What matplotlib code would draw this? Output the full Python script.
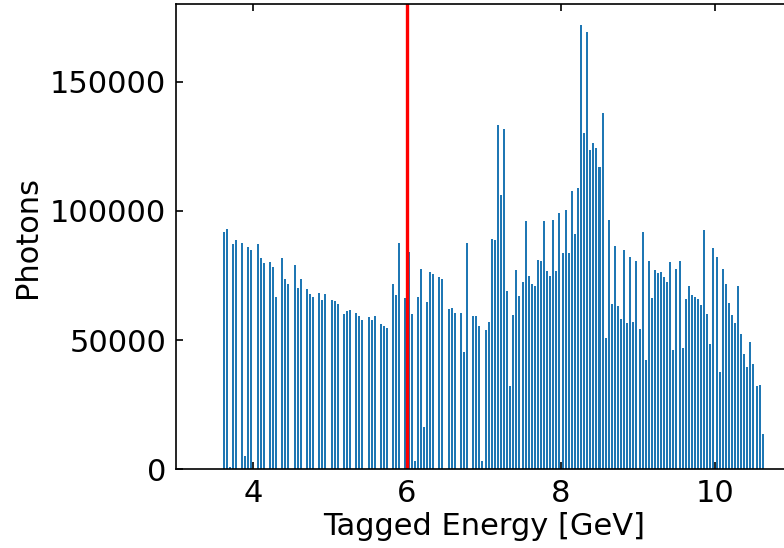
import numpy as np
import matplotlib
matplotlib.use("Agg")
import matplotlib.pyplot as plt

# ------------------ DATA ------------------
# tagger bins: first bin centre and bin step in GeV
e_start = 3.62
e_step = 0.04

photons = [
    92000, 92900, 1000, 87200, 88750, 0, 87600, 5000, 85900, 84900,
    0, 87200, 81800, 79800, 0, 80200, 78300, 66500, 0, 81800,
    73800, 71700, 0, 79100, 70200, 73800, 0, 69800, 67800, 66700,
    0, 68200, 65600, 67700, 0, 65600, 65200, 63950, 0, 59950,
    61100, 61500, 0, 60300, 59200, 57750, 0, 59000, 57600, 59400,
    0, 56100, 55400, 54650, 0, 71700, 67550, 87600, 0, 66150,
    84000, 60200, 3400, 66700, 77500, 16500, 64850, 76500, 75600, 0,
    74400, 73800, 0, 61900, 62400, 60600, 0, 60600, 45500, 87600,
    0, 59400, 59400, 55550, 3100, 54000, 57000, 89000, 88650, 133300,
    106200, 131500, 68900, 32400, 59800, 77100, 66900, 72350, 96100, 74800,
    71600, 70900, 81100, 80600, 96100, 76600, 74800, 96500, 76750, 99100,
    83500, 100300, 83600, 107500, 91000, 108900, 171800, 130100, 169000, 123650,
    126350, 124300, 116800, 138000, 50800, 96500, 63950, 86550, 63200, 58300,
    84900, 56700, 82300, 57100, 80500, 54250, 91850, 42350, 80500, 66400,
    77100, 75850, 76250, 74550, 72500, 80200, 46100, 77650, 80600, 46800,
    66000, 70900, 67300, 66650, 66000, 63550, 92650, 60100, 48450, 85650,
    82300, 37600, 77400, 71800, 64450, 59700, 56700, 71050, 52300, 44600,
    39550, 49350, 40700, 32150, 32700, 13850,
]

cut_energy = 6.0

energies = e_start + e_step * np.arange(len(photons))

# ------------------ PLOT ------------------
plt.rcParams["font.family"] = "DejaVu Sans"
plt.rcParams["font.size"] = 22

fig = plt.figure(figsize=(7.84, 5.48), dpi=100)
ax = fig.add_axes([0.2245, 0.1436, 0.7857, 0.849])

ax.bar(energies, photons, width=0.026, color="#1f77b4")
ax.axvline(cut_energy, color="red", linewidth=2.4)

ax.set_xlim(3, 11)
ax.set_ylim(0, 180000)
ax.set_xticks([4, 6, 8, 10])
ax.set_yticks([0, 50000, 100000, 150000])

ax.set_xlabel("Tagged Energy [GeV]", labelpad=3)
ax.set_ylabel("Photons", labelpad=6)

ax.tick_params(direction="in", top=True, length=5, width=1.2, pad=7)
for sp in ax.spines.values():
    sp.set_linewidth(1.2)

plt.savefig("out.png", dpi=100)
plt.close()
